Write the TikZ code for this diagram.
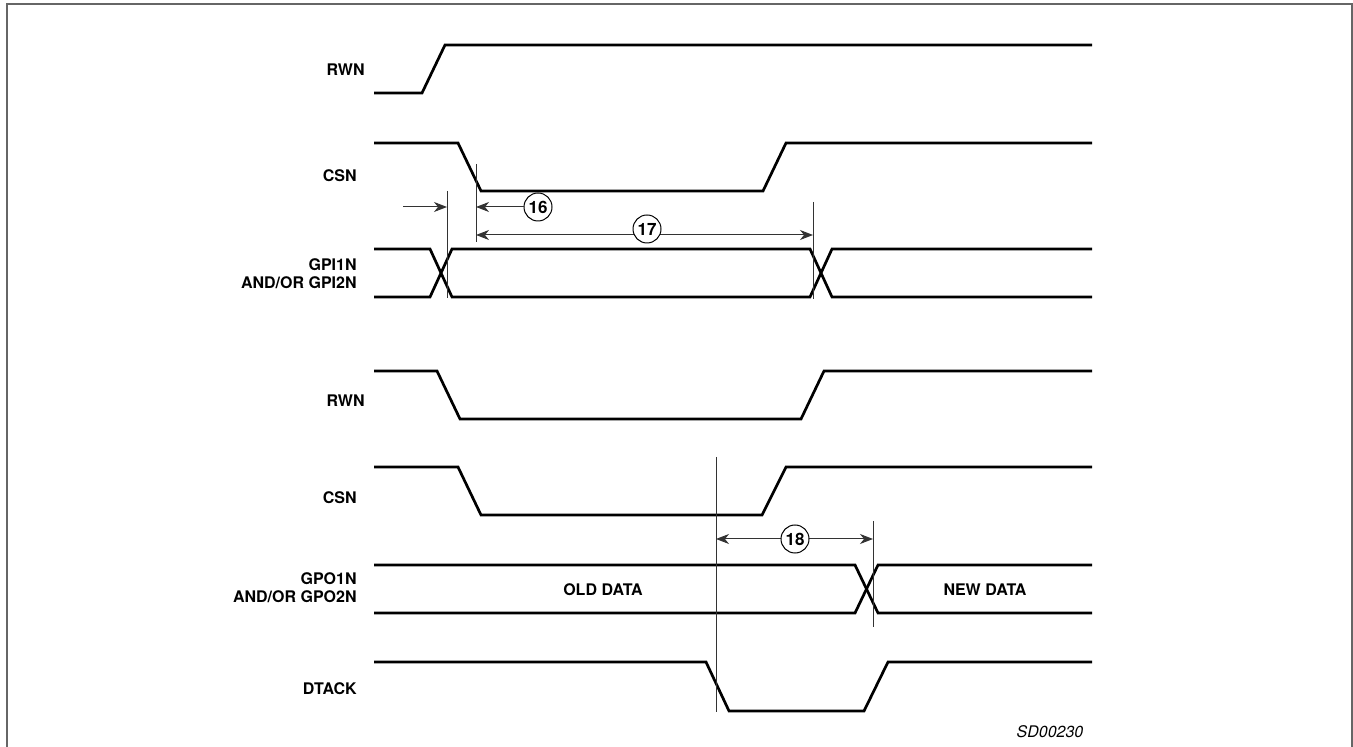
\documentclass[tikz,border=0pt]{standalone}
\usepackage{fontspec}
\setmainfont{TeX Gyre Heros}
\usetikzlibrary{arrows.meta}
\usetikzlibrary{calc}

\tikzset{
  signal/.style={line width=1.35pt, line join=miter},
  repere/.style={line width=0.5pt, draw=black!80},
  cote/.style={line width=0.5pt, draw=black!80},
  nom/.style={anchor=east, inner sep=0pt, align=right, font=\bfseries\fontsize{8}{9}\selectfont},
  bulle/.style={circle, draw, fill=white, line width=0.5pt, inner sep=0pt, minimum size=14pt, font=\bfseries\fontsize{8.5}{9}\selectfont},
}

\begin{document}
\begin{tikzpicture}[x=0.5pt,y=-0.5pt,>={Stealth[length=6.5pt,width=5pt,inset=2pt]}]
    \useasboundingbox (0,0) rectangle (1353,747);

    % Cadre
    \draw[line width=0.8pt, black!60] (7,747) -- (7,4) -- (1352,4) -- (1352,747);

    % Lecture : RWN, CSN, GPI
    \node[nom] (rwnA) at (365,70) {RWN};
    \draw[signal] (374,93) -- (422,93) -- (445,45) -- (1092,45);

    \node[nom] (csnA) at (357,176) {CSN};
    \draw[signal] (374,143) -- (458,143) -- (481,191) -- (763,191) -- (786,143) -- (1092,143);

    \node[nom] (gpi) at (357,274) {GPI1N\\AND/OR GPI2N};
    \draw[signal] (374,249) -- (430,249) -- (452,297) -- (810,297) -- (832,249) -- (1092,249);
    \draw[signal] (374,297) -- (430,297) -- (452,249) -- (810,249) -- (832,297) -- (1092,297);

    % Ecriture : RWN, CSN, GPO, DTACK
    \node[nom] (rwnB) at (365,401) {RWN};
    \draw[signal] (374,371) -- (437,371) -- (460,419) -- (801,419) -- (824,371) -- (1092,371);

    \node[nom] (csnB) at (357,498) {CSN};
    \draw[signal] (374,467) -- (458,467) -- (481,515) -- (762,515) -- (786,467) -- (1092,467);

    \node[nom] (gpo) at (357,588) {GPO1N\\AND/OR GPO2N};
    \draw[signal] (374,565) -- (855,565) -- (878,613) -- (1092,613);
    \draw[signal] (374,613) -- (855,613) -- (878,565) -- (1092,565);
    \node[nom, anchor=center] (ancien) at (603,590) {OLD DATA};
    \node[nom, anchor=center] (nouveau) at (985,590) {NEW DATA};

    \node[nom] (dtack) at (357,689) {DTACK};
    \draw[signal] (374,662) -- (706,662) -- (729,711) -- (864,711) -- (888,662) -- (1092,662);

    % Reperes verticaux
    \coordinate (v1h) at (447,191);
    \coordinate (v1b) at (447,298);
    \coordinate (v2h) at (476,164);
    \coordinate (v2b) at (476,242);
    \coordinate (v3h) at (813,202);
    \coordinate (v3b) at (813,299);
    \coordinate (v4h) at (716,457);
    \coordinate (v4b) at (716,712);
    \coordinate (v5h) at (873,521);
    \coordinate (v5b) at (873,627);
    \draw[repere] (v1h) -- (v1b);
    \draw[repere] (v2h) -- (v2b);
    \draw[repere] (v3h) -- (v3b);
    \draw[repere] (v4h) -- (v4b);
    \draw[repere] (v5h) -- (v5b);

    % Cotes
    \coordinate (e0) at (403,207);
    \coordinate (p0) at (447,207);
    \draw[cote,->] (e0) -- (p0);

    \node[bulle] (c16) at (538,207) {16};
    \coordinate (p16) at (476,207);
    \draw[cote,->] (c16) -- (p16);

    \coordinate (g17) at (476,235);
    \coordinate (d17) at (813,235);
    \draw[cote,<->] (g17) -- (d17);
    \node[bulle] (c17) at (647,229) {17};

    \coordinate (g18) at (716,539);
    \coordinate (d18) at (873,539);
    \draw[cote,<->] (g18) -- (d18);
    \node[bulle] (c18) at (795,539) {18};

    % Reference
    \node[font=\itshape\fontsize{8}{9}\selectfont, inner sep=0pt] (ref) at (1050,732) {SD00230};
\end{tikzpicture}
\end{document}
